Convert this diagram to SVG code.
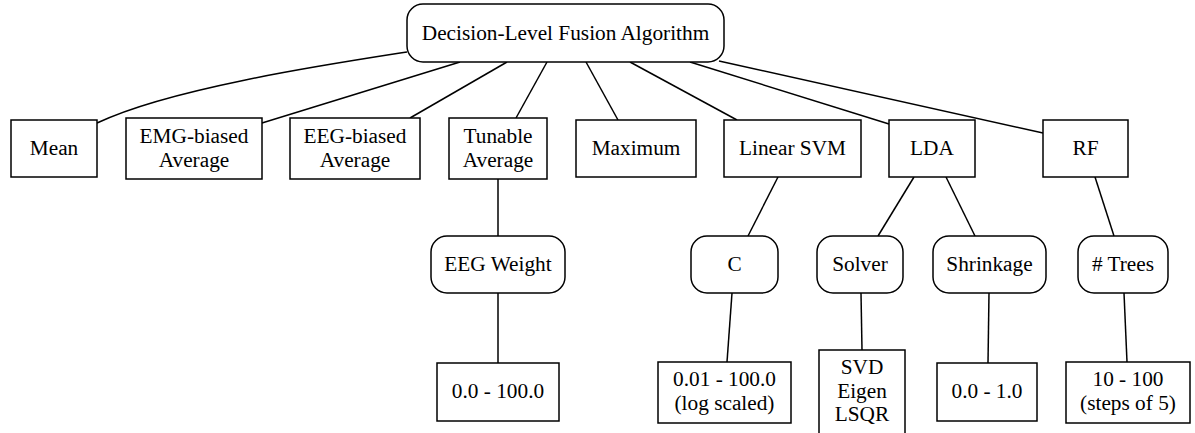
<svg xmlns="http://www.w3.org/2000/svg" width="1195" height="433" viewBox="0 0 1195 433">
<style>
  .box { fill: #ffffff; stroke: #000000; stroke-width: 1.5; }
  .rbox { fill: #ffffff; stroke: #000000; stroke-width: 1.5; }
  .edge { fill: none; stroke: #000000; stroke-width: 1.5; }
  .t { font-family: 'Liberation Serif', 'Times New Roman', Times, 'DejaVu Serif', serif; font-size: 21.3px; fill: #000000; text-anchor: middle; }
</style>
<rect x="0" y="0" width="1195" height="433" fill="#ffffff"/>
<g id="connectors">
  <path class="edge" d="M407,52 C330,64 170,88 97,123"/>
  <path class="edge" d="M460,62 L262,123"/>
  <path class="edge" d="M507,62 L410,118"/>
  <path class="edge" d="M547,62 L516,118"/>
  <path class="edge" d="M586,62 L618,120"/>
  <path class="edge" d="M630,62 L737,120"/>
  <path class="edge" d="M690,62 L889,124"/>
  <path class="edge" d="M719,61 L1043,133"/>
  <path class="edge" d="M498,179 L498,236"/>
  <path class="edge" d="M778,177 L748,236"/>
  <path class="edge" d="M914,177 L878,236"/>
  <path class="edge" d="M946,177 L975,236"/>
  <path class="edge" d="M1095,177 L1114,236"/>
  <path class="edge" d="M498,293 L498,363"/>
  <path class="edge" d="M732,293 L727,362"/>
  <path class="edge" d="M861,293 L862,350"/>
  <path class="edge" d="M989,293 L988,363"/>
  <path class="edge" d="M1124,293 L1127,362"/>
</g>
<g id="root">
  <rect class="rbox" x="407" y="4" width="317" height="58" rx="16" ry="16"/>
  <text class="t" font-family="Liberation Serif, serif" x="565.5" y="40">Decision-Level Fusion Algorithm</text>
</g>
<g id="mean">
  <rect class="box" x="11" y="120" width="86" height="57"/>
  <text class="t" font-family="Liberation Serif, serif" x="54" y="155">Mean</text>
</g>
<g id="emg-biased">
  <rect class="box" x="126" y="118" width="136" height="61"/>
  <text class="t" font-family="Liberation Serif, serif" x="194" y="143">EMG-biased</text>
  <text class="t" font-family="Liberation Serif, serif" x="194" y="167">Average</text>
</g>
<g id="eeg-biased">
  <rect class="box" x="290" y="118" width="130" height="61"/>
  <text class="t" font-family="Liberation Serif, serif" x="355" y="143">EEG-biased</text>
  <text class="t" font-family="Liberation Serif, serif" x="355" y="167">Average</text>
</g>
<g id="tunable">
  <rect class="box" x="449" y="118" width="98" height="61"/>
  <text class="t" font-family="Liberation Serif, serif" x="498" y="143">Tunable</text>
  <text class="t" font-family="Liberation Serif, serif" x="498" y="167">Average</text>
</g>
<g id="maximum">
  <rect class="box" x="576" y="120" width="120" height="57"/>
  <text class="t" font-family="Liberation Serif, serif" x="636" y="155">Maximum</text>
</g>
<g id="linear-svm">
  <rect class="box" x="724" y="120" width="137" height="57"/>
  <text class="t" font-family="Liberation Serif, serif" x="792.5" y="155">Linear SVM</text>
</g>
<g id="lda">
  <rect class="box" x="889" y="120" width="86" height="57"/>
  <text class="t" font-family="Liberation Serif, serif" x="932" y="155">LDA</text>
</g>
<g id="rf">
  <rect class="box" x="1043" y="120" width="85" height="57"/>
  <text class="t" font-family="Liberation Serif, serif" x="1085.5" y="155">RF</text>
</g>
<g id="eeg-weight">
  <rect class="rbox" x="431" y="236" width="134" height="57" rx="16" ry="16"/>
  <text class="t" font-family="Liberation Serif, serif" x="498" y="271">EEG Weight</text>
</g>
<g id="c">
  <rect class="rbox" x="691" y="236" width="87" height="57" rx="16" ry="16"/>
  <text class="t" font-family="Liberation Serif, serif" x="734.5" y="271">C</text>
</g>
<g id="solver">
  <rect class="rbox" x="817" y="236" width="86" height="57" rx="16" ry="16"/>
  <text class="t" font-family="Liberation Serif, serif" x="860" y="271">Solver</text>
</g>
<g id="shrinkage">
  <rect class="rbox" x="933" y="236" width="113" height="57" rx="16" ry="16"/>
  <text class="t" font-family="Liberation Serif, serif" x="989.5" y="271">Shrinkage</text>
</g>
<g id="trees">
  <rect class="rbox" x="1078" y="236" width="90" height="57" rx="16" ry="16"/>
  <text class="t" font-family="Liberation Serif, serif" x="1123" y="271"># Trees</text>
</g>
<g id="eeg-weight-range">
  <rect class="box" x="437" y="363" width="122" height="58"/>
  <text class="t" font-family="Liberation Serif, serif" x="498" y="398">0.0 - 100.0</text>
</g>
<g id="c-range">
  <rect class="box" x="658" y="362" width="133" height="61"/>
  <text class="t" font-family="Liberation Serif, serif" x="724.5" y="386">0.01 - 100.0</text>
  <text class="t" font-family="Liberation Serif, serif" x="724.5" y="410">(log scaled)</text>
</g>
<g id="solver-options">
  <rect class="box" x="819" y="350" width="86" height="86"/>
  <text class="t" font-family="Liberation Serif, serif" x="862" y="374">SVD</text>
  <text class="t" font-family="Liberation Serif, serif" x="862" y="398">Eigen</text>
  <text class="t" font-family="Liberation Serif, serif" x="862" y="421">LSQR</text>
</g>
<g id="shrinkage-range">
  <rect class="box" x="937" y="363" width="100" height="58"/>
  <text class="t" font-family="Liberation Serif, serif" x="987" y="398">0.0 - 1.0</text>
</g>
<g id="trees-range">
  <rect class="box" x="1066" y="362" width="124" height="61"/>
  <text class="t" font-family="Liberation Serif, serif" x="1128" y="386">10 - 100</text>
  <text class="t" font-family="Liberation Serif, serif" x="1128" y="410">(steps of 5)</text>
</g>
</svg>
